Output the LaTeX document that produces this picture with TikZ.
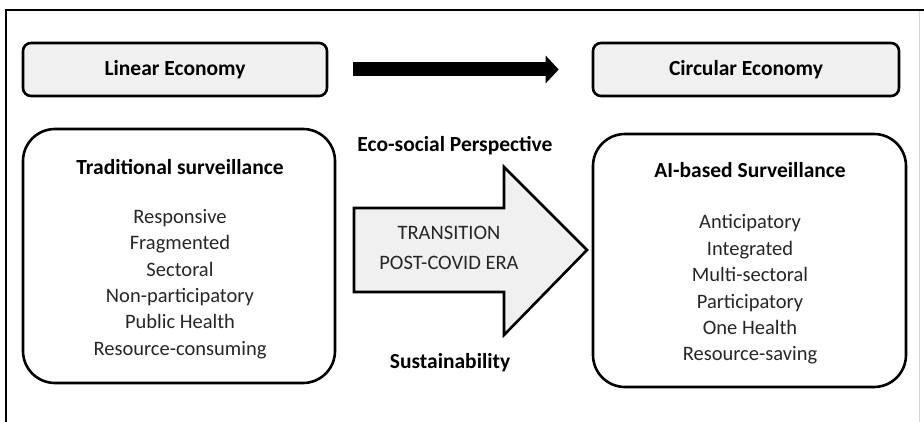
\documentclass[tikz,border=0pt]{standalone}
\usepackage{fontspec}
\setmainfont{Carlito}
\usetikzlibrary{arrows.meta}
\definecolor{boxgray}{HTML}{F0F0F0}
\definecolor{edgegray}{HTML}{D4D4D4}
\begin{document}
\begin{tikzpicture}[x=1pt,y=-1pt,
  topbox/.style={draw=black,line width=2.6pt,fill=boxgray,rounded corners=8pt,minimum width=304pt,minimum height=53pt,font=\fontsize{21.5}{24}\selectfont\bfseries},
  bigbox/.style={draw=black,line width=2.6pt,rounded corners=32pt},
  ttl/.style={font=\fontsize{21.5}{24}\selectfont\bfseries},
  items/.style={align=center,font=\fontsize{20.5}{26.4}\selectfont,text=black!85},
  trans/.style={align=center,font=\fontsize{20.5}{30}\selectfont,text=black!85}]
\useasboundingbox (0,0) rectangle (924,422);
% frame
\draw[line width=2.6pt] (6,422) -- (6,10) -- (924,10);
\draw[edgegray,line width=1pt] (919.5,11) -- (919.5,422);
% top boxes
\node[topbox] (lin) at (175,69.5) {Linear Economy};
\node[topbox,minimum width=306pt] (circ) at (746,69.5) {Circular Economy};
\draw[line width=14pt,-{Triangle[length=13pt,width=27pt]}] ([xshift=25pt]lin.east) -- ([xshift=-33pt]circ.west);
% big boxes
\draw[bigbox] (23,129) rectangle (335,383);
\draw[bigbox] (593,134) rectangle (906,387);
\node[ttl] (trad) at (180,167) {Traditional surveillance};
\node[items] (tradlist) at (180,284) {Responsive\\Fragmented\\Sectoral\\Non-participatory\\Public Health\\Resource-consuming};
\node[ttl] (ai) at (750,170) {AI-based Surveillance};
\node[items] (ailist) at (750,289.5) {Anticipatory\\Integrated\\Multi-sectoral\\Participatory\\One Health\\Resource-saving};
% transition arrow
\draw[line width=2.6pt,fill=boxgray,line join=miter] (354,208) -- (504,208) -- (504,167) -- (587,250) -- (504,335) -- (504,292) -- (354,292) -- cycle;
\node[trans] (tr) at (449,248) {TRANSITION\\POST-COVID ERA};
\node[ttl] (eco) at (455,146) {Eco-social Perspective};
\node[ttl] (sus) at (450,363) {Sustainability};
\end{tikzpicture}
\end{document}
